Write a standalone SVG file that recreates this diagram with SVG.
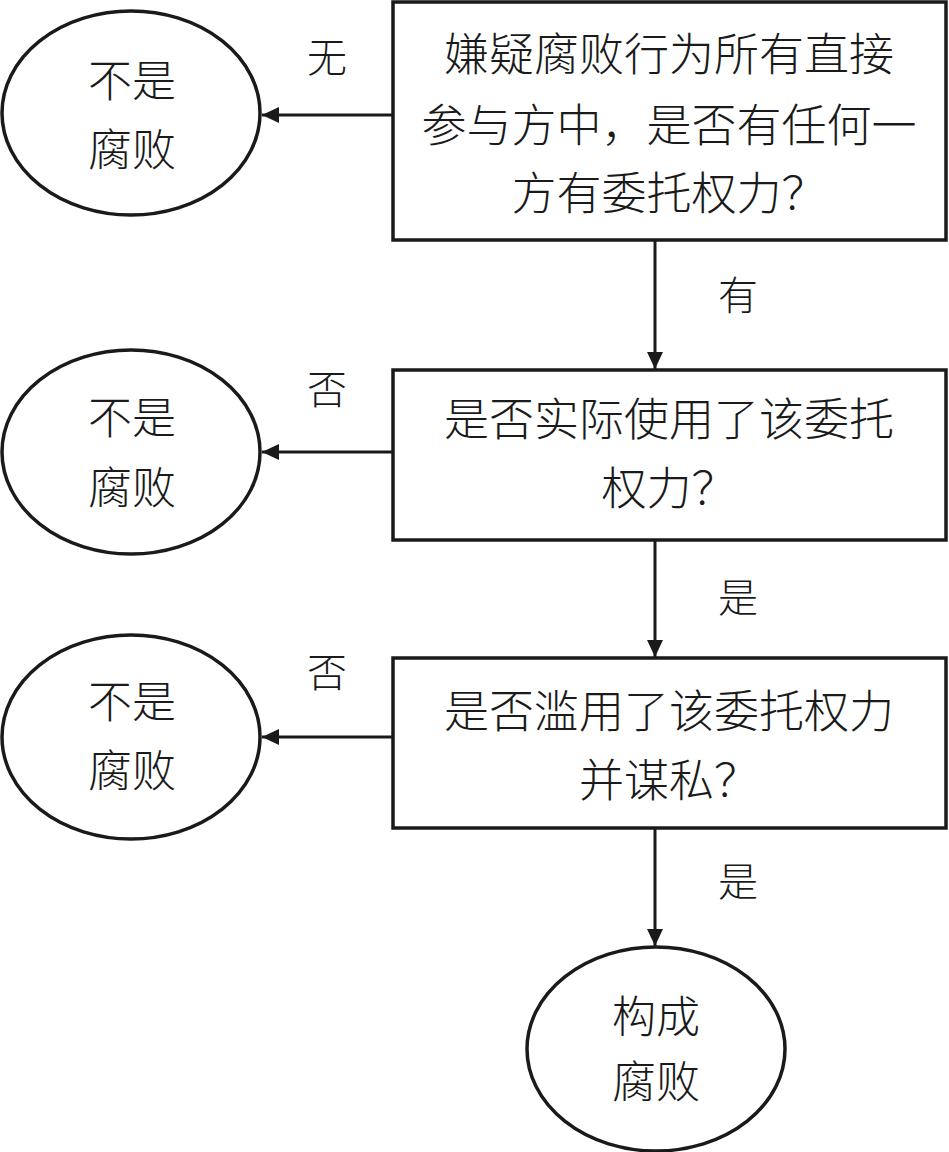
<svg xmlns="http://www.w3.org/2000/svg" width="949" height="1152" viewBox="0 0 949 1152">
<style>
.box{fill:#fff;stroke:#1a1a1a;stroke-width:3.5}
.ell{fill:#fff;stroke:#1a1a1a;stroke-width:3.5}
.t{font-family:"Noto Sans CJK SC","Liberation Serif",serif;font-weight:300;font-size:45px;fill:#1a1a1a;text-anchor:middle}
.e{font-family:"Noto Sans CJK SC","Liberation Serif",serif;font-weight:300;font-size:44px;fill:#1a1a1a;text-anchor:middle}
.l{font-family:"Noto Sans CJK SC","Liberation Serif",serif;font-weight:300;font-size:40px;fill:#1a1a1a;text-anchor:middle}
.c{stroke:#1a1a1a;stroke-width:3;fill:none;marker-end:url(#ah)}
</style>
<defs>
<marker id="ah" markerUnits="userSpaceOnUse" markerWidth="18" markerHeight="16" refX="17" refY="8" orient="auto">
<path d="M0,0 L17,8 L0,16 z" fill="#1a1a1a"/>
</marker>
</defs>
<rect width="949" height="1152" fill="#fff"/>
<g id="connectors">
<line class="c" x1="392" y1="115" x2="262" y2="115"/>
<line class="c" x1="655" y1="240" x2="655" y2="369"/>
<line class="c" x1="392" y1="452" x2="262" y2="452"/>
<line class="c" x1="655" y1="540" x2="655" y2="657"/>
<line class="c" x1="392" y1="737" x2="262" y2="737"/>
<line class="c" x1="655" y1="828" x2="655" y2="946"/>
<text class="l" x="327" y="72">无</text>
<text class="l" x="738" y="310">有</text>
<text class="l" x="327" y="404">否</text>
<text class="l" x="738" y="612">是</text>
<text class="l" x="327" y="687">否</text>
<text class="l" x="738" y="896">是</text>
</g>
<g id="q1">
<rect class="box" x="393" y="2" width="553" height="238"/>
<text class="t" x="669" y="71">嫌疑腐败行为所有直接</text>
<text class="t" x="669" y="142">参与方中，是否有任何一</text>
<text class="t" x="669" y="210">方有委托权力？</text>
</g>
<g id="n1">
<ellipse class="ell" cx="131" cy="113" rx="129" ry="102"/>
<text class="e" x="132" y="97">不是</text>
<text class="e" x="132" y="166">腐败</text>
</g>
<g id="q2">
<rect class="box" x="393" y="370" width="553" height="170"/>
<text class="t" x="669" y="436">是否实际使用了该委托</text>
<text class="t" x="669" y="505">权力？</text>
</g>
<g id="n2">
<ellipse class="ell" cx="131" cy="452" rx="129" ry="102"/>
<text class="e" x="132" y="434">不是</text>
<text class="e" x="132" y="504">腐败</text>
</g>
<g id="q3">
<rect class="box" x="393" y="658" width="553" height="170"/>
<text class="t" x="669" y="728">是否滥用了该委托权力</text>
<text class="t" x="669" y="797">并谋私？</text>
</g>
<g id="n3">
<ellipse class="ell" cx="131" cy="737" rx="129" ry="102"/>
<text class="e" x="132" y="718">不是</text>
<text class="e" x="132" y="787">腐败</text>
</g>
<g id="n4">
<ellipse class="ell" cx="656" cy="1049" rx="129" ry="102"/>
<text class="e" x="656" y="1033">构成</text>
<text class="e" x="656" y="1098">腐败</text>
</g>
</svg>
